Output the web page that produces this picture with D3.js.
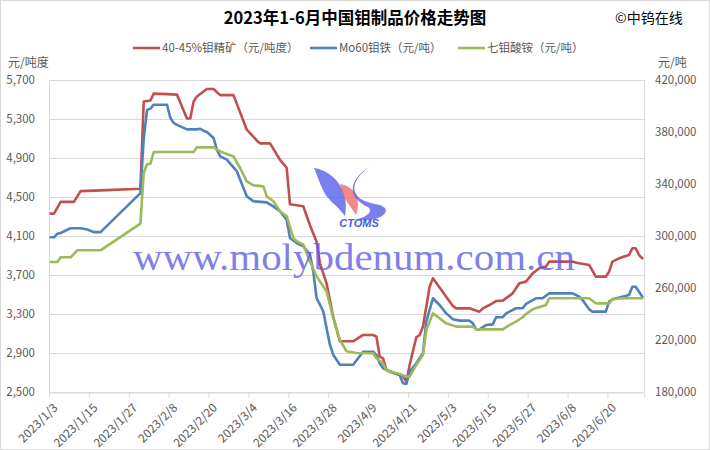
<!DOCTYPE html>
<html><head><meta charset="utf-8">
<script src="https://cdn.jsdelivr.net/npm/d3@7"></script>
<style>
body{margin:0;background:#fff}
svg{display:block}
text{font-family:"Noto Sans CJK SC","Noto Sans",sans-serif}
</style>
</head><body>
<svg id="c" width="710" height="450"></svg>
<script>
const chartTitle = "2023年1-6月中国钼制品价格走势图";
const sourceLabel = "©中钨在线";
const seriesNames = ["40-45%钼精矿（元/吨度）", "Mo60钼铁（元/吨）", "七钼酸铵（元/吨）"];
const leftUnit = "元/吨度";
const rightUnit = "元/吨";
const xTickLabels = ["2023/1/3","2023/1/15","2023/1/27","2023/2/8","2023/2/20","2023/3/4","2023/3/16","2023/3/28","2023/4/9","2023/4/21","2023/5/3","2023/5/15","2023/5/27","2023/6/8","2023/6/20"];
const leftTicks = [2500,2900,3300,3700,4100,4500,4900,5300,5700];
const rightTicks = [180000,220000,260000,300000,340000,380000,420000];

// 40-45%钼精矿 (元/吨度) - left axis
const concentrate = [["1/3",4330],["1/4",4330],["1/6",4450],["1/10",4450],["1/12",4560],["1/18",4568],["1/30",4585],["1/31",5480],["2/2",5490],["2/3",5560],["2/7",5555],["2/10",5550],["2/13",5305],["2/14",5305],["2/15",5480],["2/16",5530],["2/19",5608],["2/21",5608],["2/23",5545],["2/27",5545],["3/3",5190],["3/6",5080],["3/7",5050],["3/10",5050],["3/13",4880],["3/15",4800],["3/16",4425],["3/20",4405],["3/22",4210],["3/24",4040],["3/25",3820],["3/27",3615],["3/29",3270],["3/31",3020],["4/4",3020],["4/7",3085],["4/10",3085],["4/11",3068],["4/12",2862],["4/13",2845],["4/14",2726],["4/18",2674],["4/19",2664],["4/20",2606],["4/21",2777],["4/23",3061],["4/24",3085],["4/25",3170],["4/27",3580],["4/28",3666],["5/4",3382],["5/5",3358],["5/9",3358],["5/12",3324],["5/13",3358],["5/15",3392],["5/17",3433],["5/19",3437],["5/22",3512],["5/24",3615],["5/26",3632],["5/28",3717],["5/30",3769],["6/1",3786],["6/2",3837],["6/9",3837],["6/11",3820],["6/14",3803],["6/16",3683],["6/19",3683],["6/20",3734],["6/21",3837],["6/23",3871],["6/25",3895],["6/26",3905],["6/27",3974],["6/28",3974],["6/29",3905],["6/30",3871]];

// Mo60钼铁 (元/吨) - right axis
const ferroMo = [["1/3",299000],["1/4",299000],["1/5",301800],["1/6",302300],["1/9",306000],["1/12",306000],["1/14",305000],["1/16",303000],["1/18",303000],["1/30",333000],["1/31",375000],["2/1",397000],["2/2",398000],["2/3",401000],["2/7",401000],["2/8",391000],["2/9",387000],["2/10",385500],["2/13",382000],["2/16",382000],["2/17",382500],["2/18",381000],["2/19",380000],["2/21",375400],["2/22",366400],["2/23",361300],["2/25",358700],["2/27",352800],["2/28",349800],["3/2",336900],["3/3",330500],["3/5",326700],["3/9",325900],["3/11",322800],["3/13",319000],["3/15",312500],["3/16",298500],["3/18",294600],["3/20",292100],["3/22",285700],["3/23",272800],["3/24",252300],["3/25",247200],["3/26",242100],["3/28",216400],["3/29",208700],["3/31",201000],["4/4",201000],["4/7",211000],["4/10",211000],["4/11",208500],["4/12",202100],["4/13",198300],["4/15",195600],["4/18",193100],["4/19",186700],["4/20",186200],["4/21",195600],["4/23",202100],["4/25",209800],["4/26",234100],["4/28",252100],["4/30",246900],["5/2",240500],["5/4",235900],["5/6",234900],["5/9",234900],["5/10",232800],["5/11",228200],["5/12",228200],["5/14",231500],["5/16",232000],["5/17",237500],["5/19",237500],["5/20",240500],["5/23",244400],["5/25",244500],["5/26",247700],["5/29",252100],["5/31",252100],["6/2",255900],["6/9",255900],["6/11",253300],["6/12",250800],["6/14",243600],["6/15",241800],["6/19",241800],["6/20",249500],["6/21",251300],["6/24",253300],["6/26",254600],["6/27",261000],["6/28",261000],["6/30",253300]];

// 七钼酸铵 (元/吨) - right axis
const apm = [["1/3",280000],["1/5",280000],["1/6",283600],["1/9",283600],["1/11",289000],["1/18",289000],["1/30",309500],["1/31",348500],["2/1",355400],["2/2",355400],["2/3",364600],["2/15",364600],["2/16",368200],["2/21",368200],["2/23",365100],["2/25",363100],["2/27",361300],["3/1",352300],["3/3",342000],["3/5",339000],["3/8",338200],["3/9",330500],["3/11",326700],["3/13",319000],["3/15",315200],["3/17",298500],["3/18",296000],["3/20",293400],["3/22",280500],["3/24",269000],["3/27",257500],["3/29",236900],["3/31",220200],["4/2",211300],["4/5",210000],["4/10",209800],["4/11",205900],["4/13",202100],["4/14",196500],["4/18",193800],["4/20",191800],["4/21",191800],["4/23",200800],["4/25",208500],["4/26",227700],["4/28",240500],["4/30",236700],["5/2",232800],["5/5",230300],["5/10",230300],["5/11",228200],["5/19",228200],["5/21",231500],["5/23",234100],["5/25",237500],["5/26",240000],["5/28",243600],["6/1",246900],["6/2",252100],["6/14",252100],["6/16",248200],["6/20",248200],["6/21",251300],["6/24",252100],["6/30",252100]];

const colors = ["#c0504d", "#4f81bd", "#9bbb59"];
const labelColor = "#595959";
const gridColor = "#d9d9d9";

const svg = d3.select("#c");
const plot = {l: 49, r: 644, t: 80, b: 392};
const parseMD = s => d3.timeParse("%Y/%m/%d")("2023/" + s);
const parseFull = d3.timeParse("%Y/%m/%d");
const x = d3.scaleTime().domain([parseMD("1/3"), parseMD("7/1")]).range([plot.l, plot.r]);
const xp = s => x(d3.timeHour.offset(parseMD(s), 12));
const yL = d3.scaleLinear().domain([2500, 5700]).range([plot.b, plot.t]);
const yR = d3.scaleLinear().domain([180000, 420000]).range([plot.b, plot.t]);

// border
svg.append("rect").attr("x", 0.5).attr("y", 0.5).attr("width", 709).attr("height", 449)
  .attr("fill", "#fff").attr("stroke", gridColor);

// gridlines
svg.append("g").selectAll("line").data(leftTicks).join("line")
  .attr("x1", plot.l).attr("x2", plot.r)
  .attr("y1", d => Math.round(yL(d)) + 0.5).attr("y2", d => Math.round(yL(d)) + 0.5)
  .attr("stroke", gridColor).attr("stroke-width", 1);
[plot.l, plot.r].forEach(xx => svg.append("line").attr("x1", xx + 0.5).attr("x2", xx + 0.5)
  .attr("y1", plot.t).attr("y2", plot.b).attr("stroke", gridColor));

// left axis
const gl = svg.append("g").attr("transform", `translate(${plot.l},0)`)
  .call(d3.axisLeft(yL).tickValues(leftTicks).tickSize(0).tickPadding(14).tickFormat(d3.format(",")));
gl.select(".domain").remove();
gl.selectAll("text").attr("fill", labelColor).style("font-size", "11.5px").style("font-family", '"Noto Sans CJK SC",sans-serif');

// right axis
const gr = svg.append("g").attr("transform", `translate(${plot.r},0)`)
  .call(d3.axisRight(yR).tickValues(rightTicks).tickSize(0).tickPadding(11).tickFormat(d3.format(",")));
gr.select(".domain").remove();
gr.selectAll("text").attr("fill", labelColor).style("font-size", "11.5px").style("font-family", '"Noto Sans CJK SC",sans-serif');

// bottom axis
const gx = svg.append("g").attr("transform", `translate(0,${plot.b + 0.5})`)
  .call(d3.axisBottom(x).tickValues(xTickLabels.map(parseFull)).tickSize(5).tickFormat(d3.timeFormat("%Y/%-m/%-d")));
gx.select(".domain").attr("stroke", gridColor);
gx.selectAll(".tick line").attr("stroke", gridColor);
gx.selectAll("text").attr("fill", labelColor).style("font-size", "12px")
  .style("font-family", '"Noto Sans CJK SC",sans-serif')
  .attr("x", 0).attr("y", 0).attr("dy", "0.35em")
  .attr("text-anchor", "end")
  .attr("transform", "translate(6,13) rotate(-45)");

// lines
const lineL = d3.line().x(d => xp(d[0])).y(d => yL(d[1]));
const lineR = d3.line().x(d => xp(d[0])).y(d => yR(d[1]));
const lg = svg.append("g").attr("fill", "none").attr("stroke-width", 2.6).attr("stroke-linejoin", "round").attr("stroke-linecap", "round");
lg.append("path").datum(concentrate).attr("d", lineL).attr("stroke", colors[0]);
lg.append("path").datum(ferroMo).attr("d", lineR).attr("stroke", colors[1]);
lg.append("path").datum(apm).attr("d", lineR).attr("stroke", colors[2]);

// watermark
const wm = svg.append("g");
wm.append("path").attr("d", "M314,168 C335,171 350,192 345,216 C337,205 327,200 323,190 C319,181 317,175 314,168 Z")
  .attr("fill", "#4a56e6").attr("opacity", 0.75);
wm.append("path").attr("d", "M340,184 C354,186 362,199 356,215 C350,205 345,201 343,194 C342,190 341,187 340,184 Z")
  .attr("fill", "#f06a6a").attr("opacity", 0.8);
wm.append("path").attr("d", "M372,165 C354,177 349,191 361,199 C371,205 380,203 385,208 C389,215 377,222 355,220 C366,217 374,212 368,207 C350,199 344,182 372,165 Z")
  .attr("fill", "#4a56e6").attr("opacity", 0.75);
wm.append("text").attr("x", 359).attr("y", 227).attr("text-anchor", "middle")
  .style("font-family", '"Liberation Sans",sans-serif').style("font-size", "11px")
  .style("font-weight", "bold").style("font-style", "italic").attr("fill", "#4a5de6")
  .text("CTOMS");
wm.append("text").attr("x", 133).attr("y", 270)
  .attr("textLength", 442).attr("lengthAdjust", "spacingAndGlyphs")
  .style("font-family", '"Liberation Serif","DejaVu Serif",serif').style("font-size", "38px")
  .attr("fill", "#5c5ce8").attr("fill-opacity", 0.8)
  .text("www.molybdenum.com.cn");

// title
svg.append("text").attr("x", 355).attr("y", 24).attr("text-anchor", "middle")
  .style("font-size", "16.5px").style("font-weight", "bold").attr("fill", "#000").text(chartTitle);
svg.append("text").attr("x", 615).attr("y", 23)
  .style("font-size", "14px").attr("fill", "#000").text(sourceLabel);

// units
svg.append("text").attr("x", 8).attr("y", 67).style("font-size", "12px").attr("fill", labelColor).text(leftUnit);
svg.append("text").attr("x", 658).attr("y", 67).style("font-size", "12px").attr("fill", labelColor).text(rightUnit);

// legend
const legendX = [133, 310, 458];
seriesNames.forEach((n, i) => {
  svg.append("line").attr("x1", legendX[i]).attr("x2", legendX[i] + 27).attr("y1", 48).attr("y2", 48)
    .attr("stroke", colors[i]).attr("stroke-width", 2.6);
  svg.append("text").attr("x", legendX[i] + 29).attr("y", 48).attr("dy", "0.35em")
    .style("font-size", "11.5px").attr("fill", labelColor).text(n);
});
</script>
</body></html>
